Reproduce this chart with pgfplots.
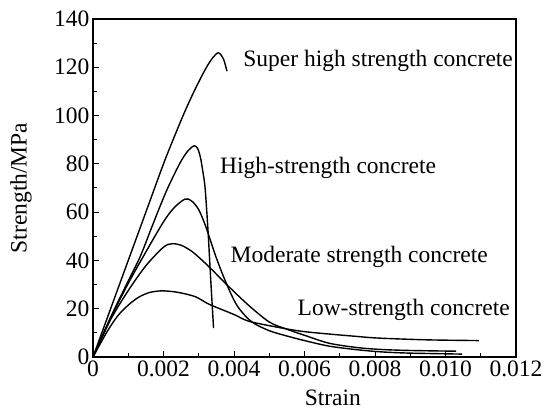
\documentclass[border=0pt]{standalone}
\usepackage{fontspec}
\setmainfont{Liberation Serif}
\usepackage{pgfplots}
\pgfplotsset{compat=1.18}
\usetikzlibrary{calc}
\newcommand{\bigf}{\fontsize{23.5bp}{27bp}\selectfont}
\begin{document}
\begin{tikzpicture}
\begin{axis}[
  name=ax,
  scale only axis,
  width=423bp, height=338bp,
  xmin=0, xmax=0.012, ymin=0, ymax=140,
  xtick={0,0.002,0.004,0.006,0.008,0.010,0.012},
  xticklabels={0,0.002,0.004,0.006,0.008,0.010,0.012},
  minor xtick={0.001,0.003,0.005,0.007,0.009,0.011},
  ytick={0,20,40,60,80,100,120,140},
  minor ytick={10,30,50,70,90,110,130},
  scaled x ticks=false,
  xtick pos=bottom, ytick pos=left,
  tick align=inside,
  major tick length=6bp, minor tick length=4bp,
  every tick/.style={black, line width=1bp},
  axis line style={line width=1.2bp},
  tick label style={font=\bigf},
  /pgf/number format/assume math mode=true,
  xlabel={Strain}, ylabel={Strength/MPa},
  every axis x label/.style={at={(axis description cs:0.567,-0.12)}, anchor=center, font=\bigf},
  every axis y label/.style={at={(axis description cs:-0.17,0.5)}, rotate=90, anchor=center, font=\bigf},
  clip=false,
]
% Super high strength
\addplot[black, line width=1.4bp, smooth] coordinates {
 (0,0) (0.0005,20) (0.001,40) (0.0015,60) (0.002,80) (0.0023,91) (0.0026,101.5)
 (0.0029,111) (0.0032,119.5) (0.0034,124) (0.00356,126) (0.0037,123.5) (0.0038,118.4)};
% High-strength
\addplot[black, line width=1.4bp, smooth] coordinates {
 (0,0) (0.0005,16.5) (0.001,31.5) (0.00134,41.6) (0.0017,55) (0.00209,69) (0.00247,80.4)
 (0.0027,85.5) (0.00287,87.5) (0.00297,86.3) (0.00305,82.5) (0.00312,76.5) (0.00318,70)
 (0.00326,53) (0.00334,32) (0.00342,12)};
% 65 MPa
\addplot[black, line width=1.4bp, smooth] coordinates {
 (0,0) (0.0005,16) (0.001,30.5) (0.0015,43.5) (0.002,56) (0.0023,61.8) (0.00261,65.4)
 (0.0028,64.6) (0.003,61) (0.0032,54) (0.0035,41) (0.0038,29.9) (0.0041,21) (0.0045,14.6)
 (0.005,10.9) (0.0055,8.7) (0.006,6.8) (0.0067,4.5) (0.0075,3) (0.0082,2.1) (0.009,1.6) (0.01047,1.2)};
% Moderate 47 MPa
\addplot[black, line width=1.4bp, smooth] coordinates {
 (0,0) (0.0005,15.5) (0.001,27.5) (0.0015,37.8) (0.002,45.5) (0.00224,46.9) (0.0025,46.3)
 (0.0028,43.8) (0.0031,40) (0.0034,35.8) (0.0038,29.9) (0.0044,21.6) (0.005,14.5)
 (0.0055,11.5) (0.006,9.0) (0.0067,5.7) (0.0075,3.9) (0.0082,3.1) (0.009,2.7) (0.0103,2.4)};
% Low-strength
\addplot[black, line width=1.4bp, smooth] coordinates {
 (0,0) (0.0004,10.5) (0.0007,17) (0.001,21.5) (0.0013,24.8) (0.0016,26.7) (0.00195,27.4)
 (0.0024,26.8) (0.0029,25) (0.0033,21.8) (0.004,17.6) (0.0044,14.9) (0.0051,12.7)
 (0.006,10.5) (0.0075,8.5) (0.00815,7.8) (0.0095,7.1) (0.01095,6.8)};
\node[anchor=base west, inner sep=0, font=\bigf] at (axis cs:0.00426,120.3) {Super high strength concrete};
\node[anchor=base west, inner sep=0, font=\bigf] at (axis cs:0.0036,76.2) {High-strength concrete};
\node[anchor=base west, inner sep=0, font=\bigf] at (axis cs:0.0039,39) {Moderate strength concrete};
\node[anchor=base west, inner sep=0, font=\bigf] at (axis cs:0.0058,17) {Low-strength concrete};
\end{axis}
\path ($(ax.south west)+(-93bp,-58bp)$) rectangle ($(ax.north east)+(34bp,19bp)$);
\end{tikzpicture}
\end{document}
